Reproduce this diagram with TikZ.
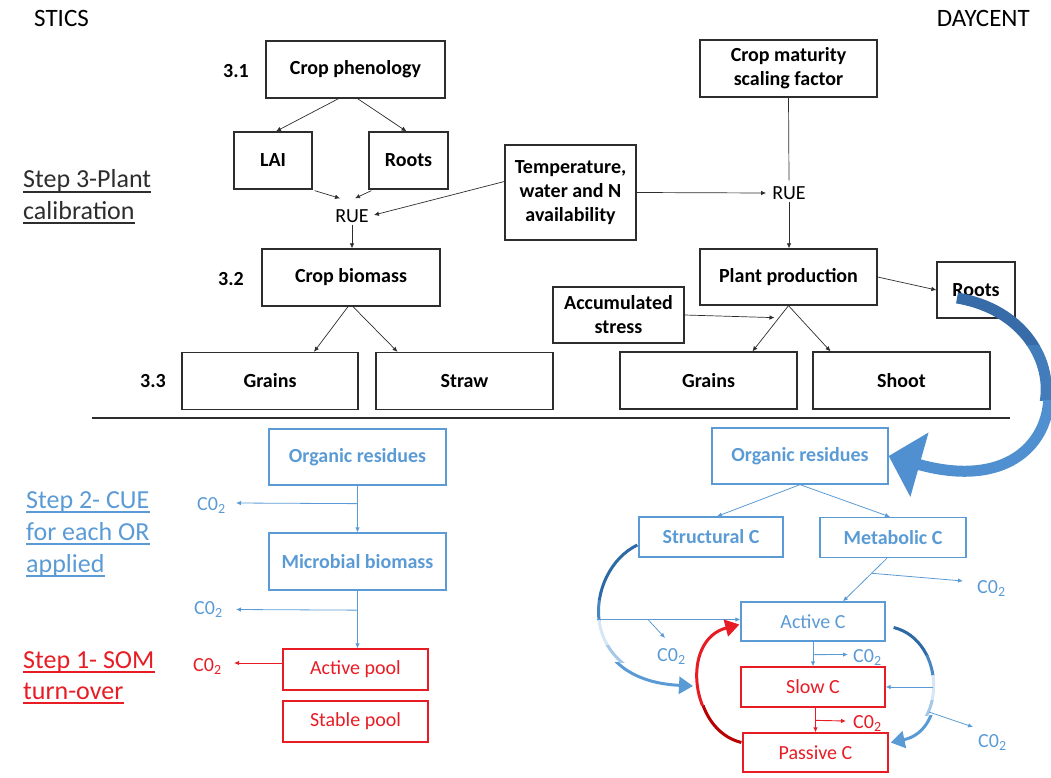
\documentclass[tikz,border=0pt]{standalone}
\usepackage{fontspec}
\setmainfont{Carlito}
\usetikzlibrary{arrows.meta,calc}
\definecolor{bk}{RGB}{45,45,45}
\definecolor{bl}{RGB}{91,155,213}
\definecolor{bld}{RGB}{45,105,165}
\definecolor{blf}{RGB}{215,230,245}
\definecolor{rd}{RGB}{232,28,36}
\definecolor{rdd}{RGB}{185,0,0}
\definecolor{bigd}{RGB}{56,108,168}
\definecolor{bigm}{RGB}{66,124,186}
\definecolor{bigl}{RGB}{80,144,208}
\tikzset{
  f20/.style={font=\fontsize{20}{24}\selectfont},
  f20b/.style={font=\fontsize{20}{24}\selectfont\bfseries},
  boxk/.style={draw=bk, line width=1.3pt, inner sep=0pt, align=center, text=black, f20b},
  boxb/.style={draw=bl, line width=1.3pt, inner sep=0pt, align=center, text=bl, f20b},
  boxbr/.style={draw=bl, line width=1.3pt, inner sep=0pt, align=center, text=bl, f20},
  boxr/.style={draw=rd, line width=1.3pt, inner sep=0pt, align=center, text=rd, f20},
  lbl/.style={inner sep=0pt, f20},
  big/.style={inner sep=0pt, font=\fontsize{25}{30}\selectfont},
  stp/.style={inner sep=0pt, font=\fontsize{26}{32}\selectfont},
  ak/.style={draw=bk, line width=0.7pt, -{Latex[length=5pt,width=4.5pt]}},
  lk/.style={draw=bk, line width=0.7pt},
  ab/.style={draw=bl, line width=0.8pt, -{Latex[length=5pt,width=4.5pt]}},
  ar/.style={draw=rd, line width=0.9pt, -{Latex[length=5pt,width=4.5pt]}},
  ulk/.style={draw=bk, line width=1.8pt},
  ulb/.style={draw=bl, line width=1.8pt},
  ulr/.style={draw=rd, line width=1.8pt},
  co/.style={inner sep=0pt, f20, anchor=base west}
}
\begin{document}
\begin{tikzpicture}[x=1pt,y=-1pt]
\useasboundingbox (0,0) rectangle (1051,778);

% titles
\node[big, anchor=base west] (stics) at (34,27) {STICS};
\node[big, anchor=base east] (daycent) at (1030,27) {DAYCENT};

% step labels
\node[stp, text=bk, anchor=base west] (s3a) at (23,188) {Step 3-Plant};
\node[stp, text=bk, anchor=base west] (s3b) at (23,219) {calibration};
\draw[ulk] ($(s3a.base west)+(0,4)$) -- ($(s3a.base east)+(0,4)$);
\draw[ulk] ($(s3b.base west)+(0,4)$) -- ($(s3b.base east)+(0,4)$);

\node[stp, text=bl, anchor=base west] (s2a) at (26,508) {Step 2- CUE};
\node[stp, text=bl, anchor=base west] (s2b) at (26,540) {for each OR};
\node[stp, text=bl, anchor=base west] (s2c) at (26,572) {applied};
\draw[ulb] ($(s2a.base west)+(0,4)$) -- ($(s2a.base east)+(0,4)$);
\draw[ulb] ($(s2b.base west)+(0,4)$) -- ($(s2b.base east)+(0,4)$);
\draw[ulb] ($(s2c.base west)+(0,4)$) -- ($(s2c.base east)+(0,4)$);

\node[stp, text=rd, anchor=base west] (s1a) at (23,668) {Step 1- SOM};
\node[stp, text=rd, anchor=base west] (s1b) at (23,699) {turn-over};
\draw[ulr] ($(s1a.base west)+(0,4)$) -- ($(s1a.base east)+(0,4)$);
\draw[ulr] ($(s1b.base west)+(0,4)$) -- ($(s1b.base east)+(0,4)$);

% numbers
\node[lbl, font=\fontsize{20}{24}\selectfont\bfseries] (n31) at (236,71) {3.1};
\node[lbl, font=\fontsize{20}{24}\selectfont\bfseries] (n32) at (231,279) {3.2};
\node[lbl, font=\fontsize{20}{24}\selectfont\bfseries] (n33) at (153,381) {3.3};

% STICS plant part
\node[boxk, minimum width=179, minimum height=57] (cp) at (355.5,69.5) {Crop phenology};
\node[boxk, minimum width=78, minimum height=57] (lai) at (273,160.5) {LAI};
\node[boxk, minimum width=79, minimum height=57] (roots1) at (408.5,160.5) {Roots};
\node[lbl, inner sep=2pt] (rue1) at (352,216) {RUE};
\node[boxk, minimum width=178, minimum height=57] (cb) at (351,277.5) {Crop biomass};
\node[boxk, minimum width=176, minimum height=57] (gr1) at (270,381) {Grains};
\node[boxk, minimum width=177, minimum height=57] (st) at (464.5,381) {Straw};

% middle
\node[boxk, minimum width=131, minimum height=95] (tw) at (570.5,192.5) {Temperature,\\water and N\\availability};

% DAYCENT plant part
\node[boxk, minimum width=177, minimum height=57] (cm) at (788.5,68.5) {Crop maturity\\scaling factor};
\node[lbl, inner sep=2pt] (rue2) at (789,193) {RUE};
\node[boxk, minimum width=177, minimum height=56] (pp) at (788.5,277) {Plant production};
\node[boxk, minimum width=78, minimum height=56] (roots2) at (976,290) {Roots};
\node[boxk, minimum width=131, minimum height=56] (as) at (618.5,315) {Accumulated\\stress};
\node[boxk, minimum width=177, minimum height=57] (gr2) at (708.5,380.5) {Grains};
\node[boxk, minimum width=177, minimum height=57] (sh) at (901.5,380.5) {Shoot};

% upper connectors
\draw[ak] ($(cp.south)+(-17,0)$) -- ($(lai.north)+(3,0)$);
\draw[ak] ($(cp.south)+(2,0)$) -- ($(roots1.north)+(-2,0)$);
\draw[ak] ($(lai.south east)+(2,1)$) -- ($(rue1.north)+(-12,-9)$);
\draw[ak] ($(roots1.south west)+(3,1)$) -- ($(rue1.north)+(3,-9)$);
\draw[ak] ($(tw.west)+(0,-11)$) -- ($(rue1.east)+(3,-1)$);
\draw[ak] (rue1.south) -- (rue1.south |- cb.north);
\draw[ak] ($(cb.south)+(-3,0)$) -- ($(gr1.north)+(44,0)$);
\draw[ak] ($(cb.south)+(2,0)$) -- ($(st.north)+(-67,0)$);
\draw[lk] (cm.south) -- ($(rue2.north)+(0,-4)$);
\draw[ak] (tw.east) -- ($(rue2.west)+(-4,0)$);
\draw[ak] (rue2.south) -- (rue2.south |- pp.north);
\draw[ak] (pp.east) -- (roots2.west);
\coordinate (asj) at ($(pp.south)+(-14,12)$);
\draw[ak] (as.east) -- (asj);
\draw[ak] (pp.south) -- ($(gr2.north)+(44,0)$);
\draw[ak] (pp.south) -- ($(sh.north)+(-71,0)$);

% separator
\coordinate (hl1) at (92,418);
\coordinate (hl2) at (1010,418);
\draw[line width=2.5pt, bk] (hl1) -- (hl2);

% lower left
\node[boxb, minimum width=177, minimum height=56] (orL) at (357.5,457) {Organic residues};
\node[boxb, minimum width=177, minimum height=57] (mbL) at (357.5,561.5) {Microbial biomass};
\node[boxr, minimum width=145, minimum height=41] (apL) at (355.5,669.5) {Active pool};
\node[boxr, minimum width=145, minimum height=41] (spL) at (355.5,721.5) {Stable pool};

\draw[ab] (orL.south) -- (mbL.north);
\coordinate (j1) at ($(orL.south)+(0,18)$);
\coordinate (t1) at (236,503);
\draw[ab] (j1) -- (t1);
\node[co, text=bl] (c1) at (197,510) {C0\textsubscript{2}};
\draw[ab] (mbL.south) -- (mbL.south |- apL.north);
\coordinate (j2) at ($(mbL.south)+(0,19.5)$);
\coordinate (t2) at (236,609.5);
\draw[ab] (j2) -- (t2);
\node[co, text=bl] (c2) at (194,614) {C0\textsubscript{2}};
\coordinate (t3) at (234,663);
\draw[ar] ($(apL.west)+(0,-6.5)$) -- (t3);
\node[co, text=rd] (c3) at (193,671) {C0\textsubscript{2}};

% lower right
\node[boxb, minimum width=176, minimum height=56] (orR) at (800,456) {Organic residues};
\node[boxb, minimum width=144, minimum height=40] (scR) at (711,537) {Structural C};
\node[boxb, minimum width=146, minimum height=40] (mcR) at (893,537.5) {Metabolic C};
\node[boxbr, minimum width=144, minimum height=39] (acR) at (813,621.5) {Active C};
\node[boxr, minimum width=144, minimum height=40] (slR) at (813,687) {Slow C};
\node[boxr, minimum width=145, minimum height=39] (paR) at (815.5,752.5) {Passive C};

\draw[ab] (orR.south) -- ($(scR.north)+(6,0)$);
\draw[ab] (orR.south) -- ($(mcR.north)+(-3,0)$);
\coordinate (ms) at ($(mcR.south)+(-6,0)$);
\coordinate (ma) at ($(acR.north)+(30,0)$);
\draw[ab] (ms) -- (ma);
\coordinate (j3) at ($(ms)!0.35!(ma)$);
\coordinate (t4) at (963,581);
\draw[ab] (j3) -- (t4);
\node[co, text=bl] (c4) at (977,593) {C0\textsubscript{2}};

\draw[ab] (acR.south) -- (slR.north);
\coordinate (j4) at ($(acR.south)+(0,13)$);
\coordinate (t5) at (848,654.5);
\draw[ab] (j4) -- (t5);
\node[co, text=bl] (c5) at (853,662) {C0\textsubscript{2}};

\draw[ar] (paR.north |- slR.south) -- (paR.north);
\coordinate (j5) at ($(paR.north)+(0,-12)$);
\coordinate (t6) at (846,721);
\draw[ar] (j5) -- (t6);
\node[co, text=rd] (c6) at (853,728) {C0\textsubscript{2}};

% left blue curve (structural -> slow), with fading bands
\def\lcurve{($(scR.west)+(-1,8)$) .. controls (585,570) and (570,680) .. (693,686)}
\begin{scope}\clip (550,500) rectangle (760,600);
  \draw[bld, line width=3pt] \lcurve; \end{scope}
\begin{scope}\clip (550,600) rectangle (760,620);
  \draw[bl!60!bld, line width=3pt] \lcurve; \end{scope}
\begin{scope}\clip (550,620) rectangle (760,645);
  \draw[blf, line width=3pt] \lcurve; \end{scope}
\begin{scope}\clip (550,645) rectangle (760,662);
  \draw[bl!55!white, line width=3pt] \lcurve; \end{scope}
\begin{scope}\clip (550,662) rectangle (760,720);
  \draw[bl, line width=3pt, -{Triangle[length=14pt,width=17pt]}] \lcurve; \end{scope}
\coordinate (lc) at (597,619.5);
\draw[ab] (lc) -- (lc -| acR.west);
\coordinate (j6) at (648,619.5);
\coordinate (t7) at (665,638);
\draw[ab] (j6) -- (t7);
\node[co, text=bl] (c7) at (657,661) {C0\textsubscript{2}};

% red curve (passive -> active)
\def\rcurve{($(paR.west)+(-1,-10)$) .. controls (690,730) and (680,640) .. ($(acR.west)+(-1,3)$)}
\begin{scope}\clip (650,705) rectangle (760,760);
  \draw[rdd, line width=3pt] \rcurve; \end{scope}
\begin{scope}\clip (650,600) rectangle (760,705);
  \draw[rd, line width=3pt, -{Triangle[length=14pt,width=17pt]}] \rcurve; \end{scope}

% right blue curve (active -> passive)
\def\bcurve{($(acR.east)+(8,6)$) .. controls (945,640) and (950,730) .. ($(paR.east)+(2,-10)$)}
\begin{scope}\clip (880,600) rectangle (970,655);
  \draw[bld, line width=3pt] \bcurve; \end{scope}
\begin{scope}\clip (880,655) rectangle (970,675);
  \draw[bl!60!bld, line width=3pt] \bcurve; \end{scope}
\begin{scope}\clip (880,675) rectangle (970,700);
  \draw[blf, line width=3pt] \bcurve; \end{scope}
\begin{scope}\clip (880,700) rectangle (970,715);
  \draw[bl!55!white, line width=3pt] \bcurve; \end{scope}
\begin{scope}\clip (880,715) rectangle (970,770);
  \draw[bl, line width=3pt, -{Triangle[length=14pt,width=17pt]}] \bcurve; \end{scope}
\coordinate (rc) at (933,687);
\draw[ab] (rc) -- (slR.east);
\coordinate (j7) at (929,712);
\coordinate (t8) at (973,727);
\draw[ab] (j7) -- (t8);
\node[co, text=bl] (c8) at (978,747) {C0\textsubscript{2}};

% big arrow roots -> organic residues
\def\bigcurve{($(roots2.center)+(-19,8)$) .. controls (1090,320) and (1080,510) .. (orR.east)}
\begin{scope}\clip (900,280) rectangle (1051,345);
  \draw[bigd, line width=11pt] \bigcurve; \end{scope}
\begin{scope}\clip (900,345) rectangle (1051,400);
  \draw[bigm, line width=11pt] \bigcurve; \end{scope}
\begin{scope}\clip (870,400) rectangle (1051,500);
  \draw[bigl, line width=11pt, -{Triangle[length=32pt,width=65pt]}] \bigcurve; \end{scope}
\end{tikzpicture}
\end{document}
